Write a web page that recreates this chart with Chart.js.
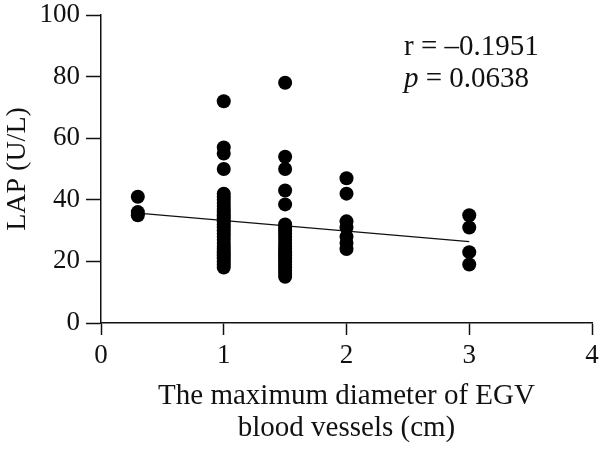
<!DOCTYPE html>
<html lang="en">
<head>
    <meta charset="UTF-8">
    <title>LAP vs EGV diameter</title>
    <script src="https://cdn.jsdelivr.net/npm/chart.js"></script>
    <style>
        * {
            margin: 0;
            padding: 0;
        }

        body {
            background-color: #fff;
        }

        #wrap {
            width: 600px;
            height: 455px;
        }
    </style>
</head>
<body>
    <div id="wrap">
        <canvas id="scatterChart" width="600" height="455"></canvas>
    </div>

    <script>
        // Data
        const diam03 = [41, 36, 35];
        const diam10 = [72, 57, 55, 50, 42, 41, 40, 39, 38, 37, 36, 35, 34, 33, 32, 31, 30,
                        29, 28, 27, 26, 25, 24, 23, 22, 21, 20, 19, 18];
        const diam15 = [78, 54, 50, 43, 38.5, 32, 31, 30, 29, 28, 27, 26, 25, 24, 23, 22, 21,
                        20, 19, 18, 17, 16, 15];
        const diam20 = [47, 42, 33, 31, 28, 26, 24];
        const diam30 = [35, 31, 23, 19];
        const fitX = [0.3, 3];
        const fitY = [35.7, 26.4];
        const xTicks = [0, 1, 2, 3, 4];
        const yTicks = [0, 20, 40, 60, 80, 100];

        const serif = "'Liberation Serif', 'DejaVu Serif', serif";

        const groups = [[0.3, diam03], [1, diam10], [1.5, diam15], [2, diam20], [3, diam30]];
        const points = [];
        groups.forEach(([x, vals]) => {
            vals.forEach(v => points.push({ x: x, y: v }));
        });

        const fitLine = fitX.map((x, i) => ({ x: x, y: fitY[i] }));

        // r / p annotation
        const statsText = {
            id: 'statsText',
            afterDraw(chart) {
                const ctx = chart.ctx;
                ctx.save();
                ctx.fillStyle = '#111';
                ctx.textBaseline = 'alphabetic';
                ctx.font = '29px ' + serif;
                ctx.fillText('r = \u20130.1951', 404, 55);
                ctx.font = 'italic 29px ' + serif;
                ctx.fillText('p', 404, 87);
                const pw = ctx.measureText('p').width;
                ctx.font = '29px ' + serif;
                ctx.fillText(' = 0.0638', 404 + pw, 87);
                ctx.restore();
            }
        };

        const ctx = document.getElementById('scatterChart').getContext('2d');
        new Chart(ctx, {
            type: 'scatter',
            data: {
                datasets: [{
                    label: 'LAP',
                    data: points,
                    backgroundColor: '#000',
                    borderColor: '#000',
                    pointRadius: 7,
                    pointHoverRadius: 7,
                    borderWidth: 0
                }, {
                    type: 'line',
                    label: 'Fit',
                    data: fitLine,
                    borderColor: '#111',
                    borderWidth: 1.3,
                    pointRadius: 0,
                    fill: false
                }]
            },
            options: {
                responsive: false,
                animation: false,
                layout: {
                    padding: { left: 0, right: 8, top: 15, bottom: 0 }
                },
                plugins: {
                    legend: { display: false },
                    tooltip: { enabled: false }
                },
                scales: {
                    x: {
                        type: 'linear',
                        min: 0,
                        max: 4,
                        afterBuildTicks: scale => {
                            scale.ticks = xTicks.map(v => ({ value: v }));
                        },
                        afterFit: scale => {
                            scale.height = 132;
                            scale.paddingLeft = 0;
                            scale.paddingRight = 0;
                        },
                        grid: {
                            drawOnChartArea: false,
                            drawTicks: true,
                            tickLength: 12,
                            tickWidth: 1.5,
                            color: '#111'
                        },
                        border: { color: '#111', width: 1.5 },
                        ticks: {
                            color: '#111',
                            padding: 5,
                            font: { family: serif, size: 27 }
                        },
                        title: {
                            display: true,
                            text: ['The maximum diameter of EGV', 'blood vessels (cm)'],
                            color: '#111',
                            font: { family: serif, size: 29, lineHeight: 1.1 },
                            padding: { top: 0, bottom: 11 }
                        }
                    },
                    y: {
                        min: 0,
                        max: 100,
                        afterBuildTicks: scale => {
                            scale.ticks = yTicks.map(v => ({ value: v }));
                        },
                        afterFit: scale => {
                            scale.width = 101;
                            scale.paddingTop = 0;
                            scale.paddingBottom = 0;
                        },
                        grid: {
                            drawOnChartArea: false,
                            drawTicks: true,
                            tickLength: 15,
                            tickWidth: 1.5,
                            color: '#111'
                        },
                        border: { color: '#111', width: 1.5 },
                        ticks: {
                            color: '#111',
                            padding: 6,
                            font: { family: serif, size: 27 }
                        },
                        title: {
                            display: true,
                            text: 'LAP (U/L)',
                            color: '#111',
                            font: { family: serif, size: 28, lineHeight: 1.15 },
                            padding: { top: 2, bottom: 0 }
                        }
                    }
                }
            },
            plugins: [statsText]
        });
    </script>
</body>
</html>
